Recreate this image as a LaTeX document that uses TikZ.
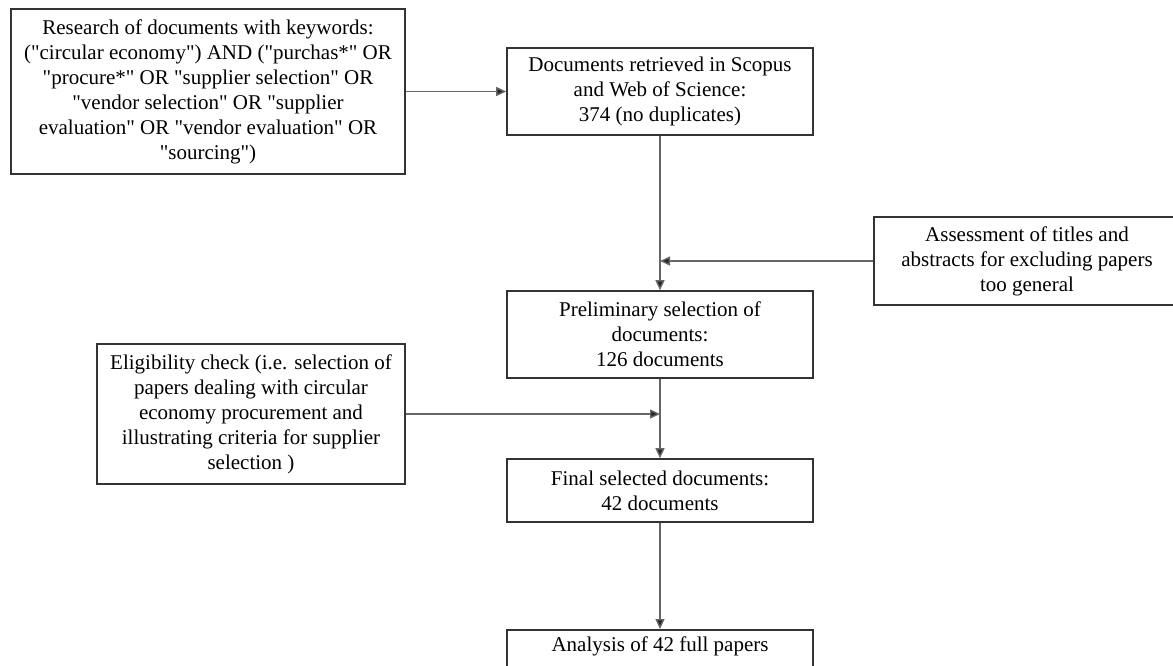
\documentclass[tikz,border=0pt]{standalone}
\usepackage{fontspec}
\setmainfont{Liberation Serif}[Ligatures=TeXOff]
\usetikzlibrary{arrows.meta}
\begin{document}
\begin{tikzpicture}[x=1pt,y=-1pt,
  box/.style={draw=black!80, line width=1.6pt, align=center,
    font=\fontsize{21}{25}\selectfont, inner sep=0pt, minimum width=306pt},
  conn/.style={draw=black!60, line width=1.4pt},
  arr/.style={conn, -{Triangle[length=10pt,width=9pt,fill=black!85]}}]
\useasboundingbox (0,0) rectangle (1173,665);
\fill[white] (0,0) rectangle (1173,665);
\clip (0,0) rectangle (1173,665);
\node[box, minimum width=394pt, minimum height=165pt] (b1) at (208,91.5)
  {Research of documents with keywords:\\
   ("circular economy") AND ("purchas*" OR\\
   "procure*" OR "supplier selection" OR\\
   "vendor selection" OR "supplier\\
   evaluation" OR "vendor evaluation" OR\\
   "sourcing")};
\node[box, minimum height=87pt] (b2) at (660,91.5)
  {Documents retrieved in Scopus\\ and Web of Science:\\ 374 (no duplicates)};
\node[box, minimum height=88pt] (b3) at (1027,261)
  {Assessment of titles and\\ abstracts for excluding papers\\ too general};
\node[box, minimum height=87pt] (b4) at (660,334.5)
  {Preliminary selection of\\ documents:\\ 126 documents};
\node[box, minimum width=308pt, minimum height=140pt] (b5) at (251,414)
  {Eligibility check (i.e. selection of\\ papers dealing with circular\\ economy procurement and\\ illustrating criteria for supplier\\ selection )};
\node[box, minimum height=63pt] (b6) at (660,490.5)
  {Final selected documents:\\ 42 documents};
\node[box, anchor=north, text height=22pt, text depth=40pt] (b7) at (660,629)
  {Analysis of 42 full papers};
\coordinate (j1) at (b2.south |- b3.west);
\coordinate (j2) at (b4.south |- b5.east);
\draw[arr] (b1.east |- b2.west) -- (b2.west);
\draw[arr] (b2.south) -- (b4.north);
\draw[arr] (b3.west) -- (j1);
\draw[arr] (b5.east) -- (j2);
\draw[arr] (b4.south) -- (b6.north);
\draw[arr] (b6.south) -- (b7.north);
\end{tikzpicture}
\end{document}
